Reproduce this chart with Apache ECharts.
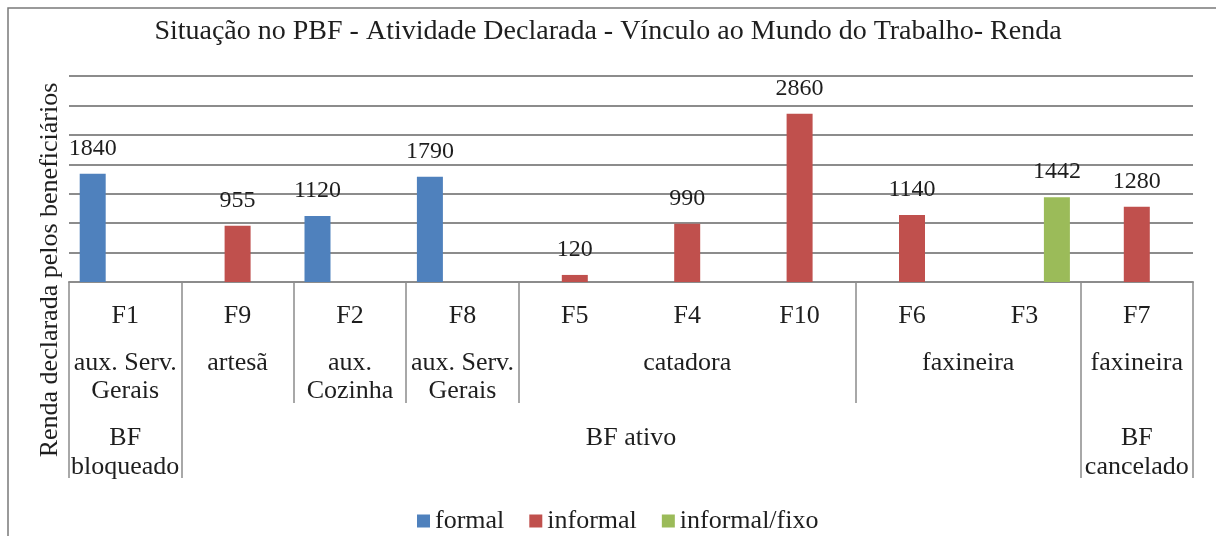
<!DOCTYPE html>
<html>
<head>
<meta charset="utf-8">
<script src="https://cdn.jsdelivr.net/npm/echarts@6/dist/echarts.min.js"></script>
<style>
html,body{margin:0;padding:0;background:#fff;}
#chart{width:1216px;height:536px;}
</style>
</head>
<body>
<div id="chart"></div>
<script>
const titleText = 'Situação no PBF - Atividade Declarada - Vínculo ao Mundo do Trabalho- Renda';
const yAxisTitle = 'Renda declarada pelos beneficiários';
const categories = ['F1', 'F9', 'F2', 'F8', 'F5', 'F4', 'F10', 'F6', 'F3', 'F7'];
const seriesNames = ['formal', 'informal', 'informal/fixo'];
const formal = [1840, null, 1120, 1790, null, null, null, null, null, null];
const informal = [null, 955, null, null, 120, 990, 2860, 1140, null, 1280];
const informalFixo = [null, null, null, null, null, null, null, null, 1442, null];
const occupationLabels = ['aux. Serv.\nGerais', 'artesã', 'aux.\nCozinha', 'aux. Serv.\nGerais', 'catadora', 'faxineira', 'faxineira'];
const occupationSpans = [1, 1, 1, 1, 3, 2, 1];
const statusLabels = ['BF\nbloqueado', 'BF ativo', 'BF\ncancelado'];
const statusSpans = [1, 8, 1];
const yTicks = { min: 0, max: 3500, interval: 500 };

const FONT = 'Liberation Serif, Times New Roman, serif';
const TXT = '#1e1e1e';
const GRID = '#8c8c8c';
const colors = ['#4F81BD', '#C0504D', '#9BBB59'];

// Build half-category slots (2 per category + 1) for the grouped level axes
function buildLevel(labels, spans) {
  const n = categories.length * 2 + 1;
  const text = new Array(n).fill('');
  const bounds = new Set([0]);
  let start = 0;
  labels.forEach((lab, i) => {
    const end = start + spans[i];
    text[start + end] = lab; // center index in half-slots
    bounds.add(2 * end);
    start = end;
  });
  return { slots: text.map((_, i) => 's' + i), text, bounds };
}
const lvl2 = buildLevel(occupationLabels, occupationSpans);
const lvl3 = buildLevel(statusLabels, statusSpans);

const chart = echarts.init(document.getElementById('chart'));
chart.setOption({
  animation: false,
  backgroundColor: '#fff',
  color: colors,
  title: {
    text: titleText,
    left: 'center',
    top: 13,
    textStyle: { fontFamily: FONT, fontSize: 28, fontWeight: 'normal', color: TXT }
  },
  legend: {
    left: 412,
    top: 503,
    itemWidth: 13,
    itemHeight: 13,
    itemGap: 25,
    icon: 'rect',
    textStyle: { fontFamily: FONT, fontSize: 26, color: TXT },
    data: seriesNames
  },
  graphic: [
    {
      type: 'rect',
      shape: { x: 8, y: 8, width: 1400, height: 700 },
      style: { fill: 'none', stroke: '#7a7a7a', lineWidth: 1.5 },
      silent: true
    },
    {
      type: 'text',
      x: 50,
      y: 270,
      rotation: Math.PI / 2,
      style: {
        text: yAxisTitle,
        fontFamily: FONT,
        fontSize: 26,
        fill: TXT,
        textAlign: 'center',
        textVerticalAlign: 'middle'
      }
    }
  ],
  grid: { left: 69, right: 23, top: 76, bottom: 254, containLabel: false, outerBoundsMode: 'none' },
  xAxis: [
    {
      type: 'category',
      position: 'bottom',
      data: categories,
      boundaryGap: true,
      axisLine: { show: true, lineStyle: { color: GRID, width: 2 } },
      axisTick: { show: false },
      axisLabel: { margin: 21, fontFamily: FONT, fontSize: 26, color: TXT, interval: 0 }
    },
    {
      type: 'category',
      position: 'bottom',
      offset: 0,
      data: lvl2.slots,
      boundaryGap: false,
      axisLine: { show: false },
      axisTick: {
        show: true, length: 121,
        interval: (i) => lvl2.bounds.has(i),
        lineStyle: { color: GRID, width: 1.5 }
      },
      axisLabel: {
        margin: 67,
        interval: (i) => lvl2.text[i] !== '',
        formatter: (v, i) => lvl2.text[i],
        fontFamily: FONT, fontSize: 26, lineHeight: 28, color: TXT
      }
    },
    {
      type: 'category',
      position: 'bottom',
      offset: 0,
      data: lvl3.slots,
      boundaryGap: false,
      axisLine: { show: false },
      axisTick: {
        show: true, length: 196,
        interval: (i) => lvl3.bounds.has(i),
        lineStyle: { color: GRID, width: 1.5 }
      },
      axisLabel: {
        margin: 142,
        interval: (i) => lvl3.text[i] !== '',
        formatter: (v, i) => lvl3.text[i],
        fontFamily: FONT, fontSize: 26, lineHeight: 29, color: TXT
      }
    }
  ],
  yAxis: {
    type: 'value',
    min: yTicks.min,
    max: yTicks.max,
    interval: yTicks.interval,
    axisLine: { show: false },
    axisTick: { show: false },
    axisLabel: { show: false },
    splitLine: { show: true, lineStyle: { color: GRID, width: 2 } }
  },
  series: [formal, informal, informalFixo].map((d, k) => ({
    name: seriesNames[k],
    type: 'bar',
    xAxisIndex: 0,
    data: d,
    barWidth: 26,
    barGap: '25%',
    itemStyle: { color: colors[k] },
    label: {
      show: true,
      position: 'top',
      distance: 13,
      fontFamily: FONT,
      fontSize: 24,
      color: TXT
    }
  }))
});
</script>
</body>
</html>
